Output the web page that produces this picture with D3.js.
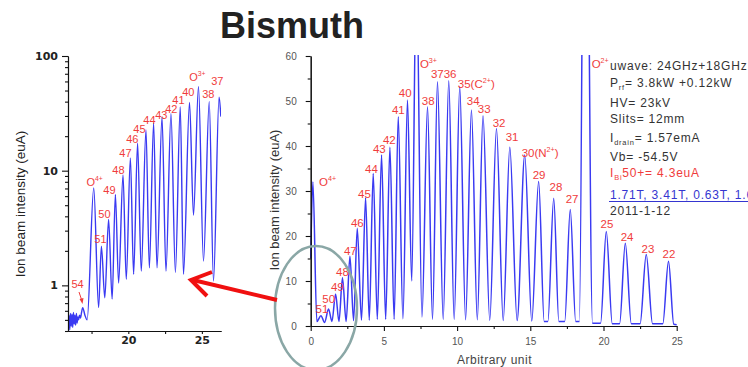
<!DOCTYPE html>
<html>
<head>
<meta charset="utf-8">
<script src="https://cdn.jsdelivr.net/npm/d3@7"></script>
<style>
  body { margin: 0; background: #fff; }
  svg { display: block; font-family: Arial, "Liberation Sans", sans-serif; }
</style>
</head>
<body>
<div id="chart"></div>
<script>
// main spectrum (linear axis) - peaks and valleys
const mainX = [0, 0.15, 0.42, 0.7, 0.95, 1.22, 1.45, 1.7, 1.93, 2.17, 2.42, 2.68, 2.93, 3.18, 3.47, 3.75, 4.0, 4.27,
  4.55, 4.84, 5.12, 5.41, 5.7, 5.98, 6.3, 6.61, 6.9, 7.22, 7.6, 7.98, 8.32, 8.66, 9.05, 9.43, 9.8, 10.18, 10.58,
  10.98, 11.38, 11.77, 12.23, 12.69, 13.15, 13.6, 14.1, 14.62, 15.1, 15.57, 15.95, 16.2, 16.6, 16.95, 17.35, 17.73,
  18.1, 18.35, 18.75, 19.25, 19.8, 20.19, 20.6, 21.1, 21.49, 21.9, 22.5, 22.92, 23.35, 24.05, 24.44, 24.8, 25];
const mainY = [15, 32, 1.0, 2.3, 0.8, 3.8, 1.0, 7.1, 1.0, 10.7, 1.0, 15.5, 1.2, 21.7, 1.3, 28.5, 1.3, 33.9,
  1.5, 38.0, 1.5, 39.7, 1.5, 46.5, 1.6, 50.2, 10, 80, 2.0, 48.7, 1.5, 54.3, 1.5, 54.5, 1.5, 53.2, 1.4,
  48.0, 1.4, 46.7, 1.3, 43.9, 1.2, 39.7, 1.2, 38.0, 1.1, 32.1, 1.0, 1.0, 28.4, 1.0, 1.0, 25.9,
  1.0, 1.0, 150, 0.6, 0.6, 21.0, 0.5, 0.5, 18.4, 0.5, 0.5, 15.9, 0.5, 0.5, 14.4, 0.4, 0.3];

// left inset (log axis)
const leftX = [15.92, 15.97, 16.02, 16.07, 16.12, 16.17, 16.22, 16.27, 16.32, 16.37, 16.42, 16.47, 16.52, 16.57,
  16.62, 16.68, 16.75, 16.82, 16.9, 17.05, 17.2, 17.65, 17.98, 18.17, 18.4, 18.66, 18.9, 19.12, 19.34, 19.64,
  19.86, 20.14, 20.36, 20.63, 20.88, 21.2, 21.43, 21.72, 21.95, 22.29, 22.56, 22.9, 23.2, 23.53, 23.75, 24.16,
  24.43, 24.77, 25.11, 25.5, 25.79, 26.17, 26.29];
const leftY = [0.42, 0.55, 0.41, 0.57, 0.44, 0.56, 0.43, 0.58, 0.46, 0.55, 0.45, 0.57, 0.47, 0.53,
  0.5, 0.55, 0.52, 0.58, 0.64, 0.55, 0.5, 7.07, 0.64, 2.2, 0.78, 3.75, 0.76, 6.2, 1.05, 9.2,
  1.13, 12.9, 1.25, 17.4, 1.33, 22.7, 1.42, 26, 1.42, 29.3, 1.33, 31.4, 1.3, 36, 1.25, 39.3,
  4.1, 54, 1.63, 40, 1.09, 43.7, 29.6];

// peak labels (text, anchor in data units)
const mainLabels = ["O^{4+}", "51", "50", "49", "48", "47", "46", "45", "44", "43", "42", "41", "40", "O^{3+}",
  "38", "3736", "35(C^{2+})", "34", "33", "32", "31", "30(N^{2+})", "29", "28", "27", "O^{2+}", "25", "24", "23", "22"];
const mainLabelX = [0.57, 0.33, 0.79, 1.38, 1.73, 2.27, 2.75, 3.23, 3.71, 4.25, 4.93, 5.55, 6.02, 7.46,
  7.59, 8.21, 10.05, 10.66, 11.41, 12.43, 13.32, 14.41, 15.16, 16.32, 17.42, 19.19, 19.8, 21.17, 22.6, 24.03];
const mainLabelY = [31.1, 3.0, 5.2, 7.8, 11.1, 15.8, 22, 28.4, 34, 38.4, 40.4, 47.1, 50.9, 57.3,
  49.1, 55.1, 52.9, 49.1, 47.3, 44.2, 41.1, 37.6, 32.7, 30, 27.3, 57.3, 21.8, 18.9, 16.2, 15.1];

const leftLabels = ["54", "O^{4+}", "51", "50", "49", "48", "47", "46", "45", "44", "43", "42", "41", "40", "O^{3+}", "38", "37"];
const leftLabelX = [16.13, 17.15, 17.69, 17.96, 18.3, 18.91, 19.39, 19.86, 20.34, 21.02, 21.83, 22.51, 22.99, 23.66, 24.14, 25.02, 25.63];
const leftLabelY = [0.94, 7.4, 2.32, 3.83, 6.3, 9.4, 13.2, 17.5, 21.5, 25.7, 28.2, 32, 38.3, 44.8, 60.7, 43.2, 55.9];

const mainXTicks = [0, 5, 10, 15, 20, 25];
const mainXMinor = [2.5, 7.5, 12.5, 17.5, 22.5];
const mainYTicks = [0, 10, 20, 30, 40, 50, 60];
const mainYMinor = [5, 15, 25, 35, 45, 55];
const leftXTicks = [20, 25];
const leftXMinor = [17.5, 22.5];
const leftYTicks = [1, 10, 100];
const leftYMinor = [0.4, 0.5, 0.6, 0.7, 0.8, 0.9, 2, 3, 4, 5, 6, 7, 8, 9, 20, 30, 40, 50, 60, 70, 80, 90];

const settings = [
  "uwave: 24GHz+18GHz",
  "P_{rf}= 3.8kW +0.12kW",
  "HV= 23kV",
  "Slits= 12mm",
  "I_{drain}= 1.57emA",
  "Vb= -54.5V",
  "I_{Bi}50+= 4.3euA",
  "1.71T, 3.41T, 0.63T, 1.68T",
  "2011-1-12"
];

const W = 748, H = 367;
const RED = "#f03c3c", BLUE = "#3a3af2";

const svg = d3.select("#chart").append("svg").attr("width", W).attr("height", H);

// writes "O^{4+}" / "P_{rf}" style strings as tspans
function rich(sel, s, fs) {
  const parts = s.split(/([\^_]\{[^}]*\})/).filter(p => p);
  let off = 0;
  parts.forEach(p => {
    const t = sel.append("tspan");
    if (p[0] === "^" || p[0] === "_") {
      const d = p[0] === "^" ? -fs * 0.45 : fs * 0.3;
      t.attr("dy", d - off).attr("font-size", fs * 0.62).text(p.slice(2, -1));
      off = d;
    } else {
      t.attr("dy", -off).text(p);
      off = 0;
    }
  });
}

svg.append("text")
  .attr("x", 220).attr("y", 38)
  .attr("font-size", 36).attr("font-weight", "bold").attr("fill", "#222")
  .text("Bismuth");

// ---------- left inset, log scale ----------
const xL = d3.scaleLinear().domain([15.9, 26.3]).range([68, 221]);
const yL = d3.scaleLog().domain([0.4, 100]).range([331, 56]);

svg.append("clipPath").attr("id", "clipL")
  .append("rect").attr("x", 68).attr("y", 56).attr("width", 153).attr("height", 275);

const lineL = d3.line().x(d => xL(d[0])).y(d => yL(d[1])).curve(d3.curveMonotoneX);
svg.append("path")
  .datum(d3.zip(leftX, leftY))
  .attr("clip-path", "url(#clipL)")
  .attr("fill", "none").attr("stroke", BLUE).attr("stroke-width", 1.4)
  .attr("d", lineL);

const axL = svg.append("g").attr("transform", `translate(68,0)`)
  .call(d3.axisLeft(yL).tickValues(leftYTicks).tickFormat(d3.format("d")).tickSize(6).tickSizeOuter(0).tickPadding(4));
svg.append("g").attr("transform", `translate(68,0)`)
  .call(d3.axisLeft(yL).tickValues(leftYMinor).tickFormat("").tickSize(3).tickSizeOuter(0));
const axLx = svg.append("g").attr("transform", `translate(0,331)`)
  .call(d3.axisBottom(xL).tickValues(leftXTicks).tickSize(3).tickSizeOuter(0).tickPadding(2));
svg.append("g").attr("transform", `translate(0,331)`)
  .call(d3.axisBottom(xL).tickValues(leftXMinor).tickFormat("").tickSize(3).tickSizeOuter(0));
[axL, axLx].forEach(g => g.selectAll("text")
  .attr("font-family", "'DejaVu Sans', sans-serif").attr("font-size", 11)
  .attr("font-weight", "bold").attr("fill", "#222"));

svg.append("text")
  .attr("transform", "translate(25,204) rotate(-90)")
  .attr("text-anchor", "middle").attr("font-size", 13.5).attr("fill", "#222")
  .text("Ion beam intensity (euA)");

leftLabels.forEach((t, i) => {
  const tx = svg.append("text")
    .attr("x", xL(leftLabelX[i])).attr("y", yL(leftLabelY[i]))
    .attr("font-size", 11).attr("fill", RED);
  rich(tx, t, 11);
});
// little arrow under "54"
svg.append("line").attr("x1", 79).attr("y1", 292).attr("x2", 82).attr("y2", 301)
  .attr("stroke", RED).attr("stroke-width", 1);
svg.append("path").attr("d", "M79.5,299 L82.5,304 L83.5,298 Z").attr("fill", RED);

// ---------- main spectrum, linear ----------
const xM = d3.scaleLinear().domain([0, 25]).range([310.7, 676.7]);
const yM = d3.scaleLinear().domain([0, 60]).range([326, 56]);

svg.append("clipPath").attr("id", "clipM")
  .append("rect").attr("x", 300).attr("y", 55).attr("width", 390).attr("height", 280);

const lineM = d3.line().x(d => xM(d[0])).y(d => yM(d[1])).curve(d3.curveMonotoneX);
svg.append("path")
  .datum(d3.zip(mainX, mainY))
  .attr("clip-path", "url(#clipM)")
  .attr("fill", "none").attr("stroke", BLUE).attr("stroke-width", 1.5)
  .attr("d", lineM);

const axMx = svg.append("g").attr("transform", `translate(0,${yM(0)})`)
  .call(d3.axisBottom(xM).tickValues(mainXTicks).tickSize(5).tickSizeOuter(0).tickPadding(7));
svg.append("g").attr("transform", `translate(0,${yM(0)})`)
  .call(d3.axisBottom(xM).tickValues(mainXMinor).tickFormat("").tickSize(3).tickSizeOuter(0));
const axMy = svg.append("g").attr("transform", `translate(${xM(0)},0)`)
  .call(d3.axisLeft(yM).tickValues(mainYTicks).tickSize(5).tickSizeOuter(0).tickPadding(9));
svg.append("g").attr("transform", `translate(${xM(0)},0)`)
  .call(d3.axisLeft(yM).tickValues(mainYMinor).tickFormat("").tickSize(3).tickSizeOuter(0));
[axMx, axMy].forEach(g => g.selectAll("text")
  .attr("font-family", "Arial, sans-serif").attr("font-size", 10).attr("fill", "#555"));

svg.selectAll(".domain, .tick line").attr("stroke", "#111").attr("stroke-width", 1.1);

svg.append("text")
  .attr("transform", "translate(279,200) rotate(-90)")
  .attr("text-anchor", "middle").attr("font-size", 13).attr("fill", "#333")
  .text("Ion beam intensity (euA)");
svg.append("text")
  .attr("x", 457).attr("y", 364)
  .attr("font-size", 12).attr("letter-spacing", 0.5).attr("fill", "#444")
  .text("Arbitrary unit");

mainLabels.forEach((t, i) => {
  const tx = svg.append("text")
    .attr("x", xM(mainLabelX[i])).attr("y", yM(mainLabelY[i]))
    .attr("font-size", 11.5).attr("fill", RED);
  rich(tx, t, 11.5);
});

// settings block
const lineBase = [69.5, 86.5, 106.7, 123.3, 141.5, 161, 176.7, 199, 215];
settings.forEach((s, i) => {
  const color = i === 6 ? RED : i === 7 ? "#3535d0" : "#333";
  const tx = svg.append("text")
    .attr("x", 610).attr("y", lineBase[i])
    .attr("font-size", 12).attr("letter-spacing", 0.8).attr("fill", color);
  rich(tx, s, 12);
});
svg.append("line").attr("x1", 609).attr("x2", 748).attr("y1", 201.5).attr("y2", 201.5)
  .attr("stroke", "#3535d0").attr("stroke-width", 1.2);

// ---------- callouts ----------
svg.append("ellipse")
  .attr("cx", 316).attr("cy", 308).attr("rx", 41).attr("ry", 62)
  .attr("fill", "none").attr("stroke", "#8aa7a6").attr("stroke-width", 2.5);

svg.append("line").attr("x1", 277).attr("y1", 300).attr("x2", 193).attr("y2", 280)
  .attr("stroke", "#f01010").attr("stroke-width", 4);
svg.append("path").attr("d", "M212,272 L191,280 L207,296")
  .attr("fill", "none").attr("stroke", "#f01010").attr("stroke-width", 4).attr("stroke-linejoin", "miter");
</script>
</body>
</html>
